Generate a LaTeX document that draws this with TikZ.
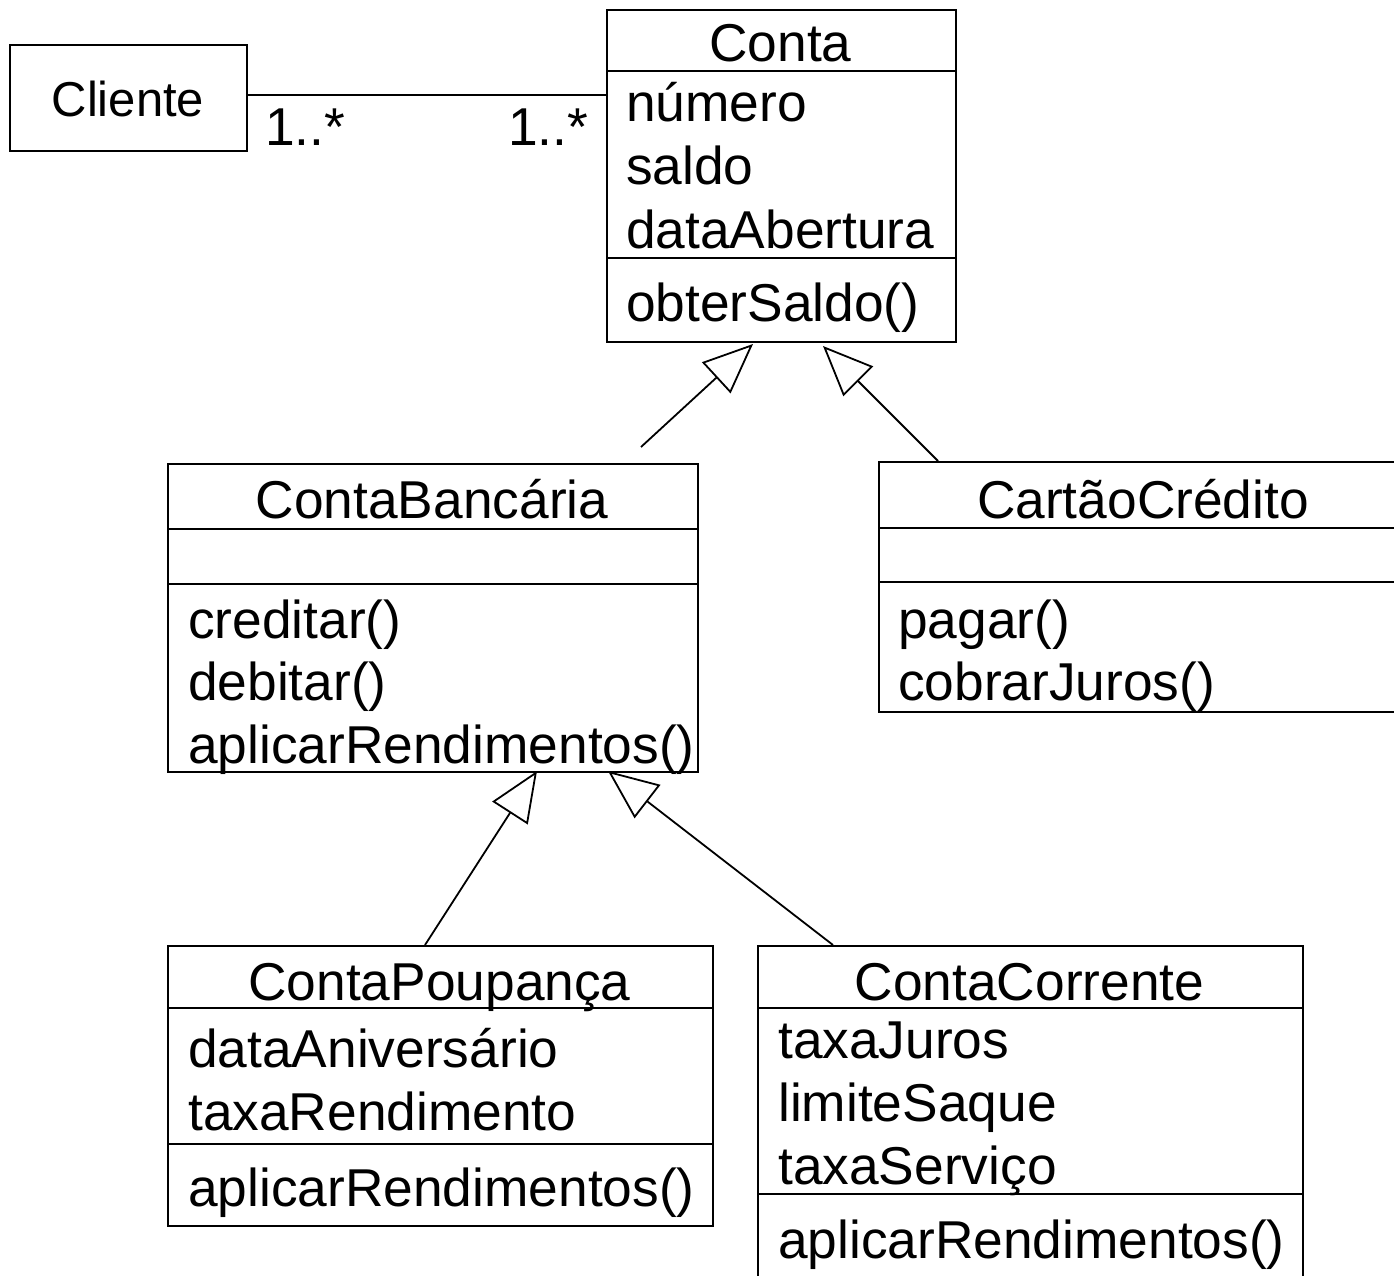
\documentclass[tikz,border=0pt]{standalone}
\usepackage{fontspec}
\setmainfont{Liberation Sans}
\usetikzlibrary{arrows.meta}
\begin{document}
\begin{tikzpicture}[x=1pt,y=-1pt,
  classbox/.style={draw, line width=1.8pt, inner sep=0pt, anchor=north west},
  txt/.style={inner sep=0pt, anchor=base west, font=\fontsize{53.3}{63}\selectfont},
  ttl/.style={inner sep=0pt, anchor=base, font=\fontsize{53.3}{63}\selectfont},
  sep/.style={line width=1.8pt},
  assoc/.style={line width=1.8pt},
  gen/.style={line width=1.8pt, -{Triangle[open, length=50pt, width=42pt, line width=1.8pt]}}
]
\clip (0,0) rectangle (1394,1276);
\fill[white] (0,0) rectangle (1394,1276);

% Cliente
\node[classbox, minimum width=237pt, minimum height=106pt] (cli) at (9,44) {};
\node[ttl, font=\fontsize{49}{60}\selectfont] (clit) at (128,117) {Cliente};

% Conta
\node[classbox, minimum width=349pt, minimum height=332pt] (conta) at (606,9) {};
\draw[sep] (606,71) -- (955,71);
\draw[sep] (606,258) -- (955,258);
\node[ttl] (contat) at (780.5,62) {Conta};
\node[txt] (c1) at (626,122) {número};
\node[txt] (c2) at (626,185) {saldo};
\node[txt] (c3) at (626,248) {dataAbertura};
\node[txt] (c4) at (626,321) {obterSaldo()};

% association
\draw[assoc] (cli.east |- 0,95) -- (conta.west |- 0,95);
\node[txt] (m1) at (265,146) {1..*};
\node[txt] (m2) at (508,146) {1..*};

% ContaBancaria
\node[classbox, minimum width=530pt, minimum height=308pt] (cb) at (167,463) {};
\draw[sep] (167,529) -- (697,529);
\draw[sep] (167,584) -- (697,584);
\node[ttl] (cbt) at (432,518) {ContaBancária};
\node[txt] (cb1) at (188,638) {creditar()};
\node[txt] (cb2) at (188,700) {debitar()};
\node[txt] (cb3) at (188,763) {aplicarRendimentos()};

% CartaoCredito
\node[classbox, minimum width=530pt, minimum height=250pt] (cc) at (878,461) {};
\draw[sep] (878,528) -- (1408,528);
\draw[sep] (878,582) -- (1408,582);
\node[ttl] (cct) at (1143,518) {CartãoCrédito};
\node[txt] (cc1) at (898,638) {pagar()};
\node[txt] (cc2) at (898,700) {cobrarJuros()};

% ContaPoupanca
\node[classbox, minimum width=545pt, minimum height=280pt] (cp) at (167,945) {};
\draw[sep] (167,1008) -- (712,1008);
\draw[sep] (167,1144) -- (712,1144);
\node[ttl] (cpt) at (439.5,1000) {ContaPoupança};
\node[txt] (cp1) at (188,1067) {dataAniversário};
\node[txt] (cp2) at (188,1130) {taxaRendimento};
\node[txt] (cp3) at (188,1206) {aplicarRendimentos()};

% ContaCorrente
\node[classbox, minimum width=545pt, minimum height=360pt] (ccr) at (757,945) {};
\draw[sep] (757,1008) -- (1302,1008);
\draw[sep] (757,1194) -- (1302,1194);
\node[ttl] (ccrt) at (1029.5,1000) {ContaCorrente};
\node[txt] (ccr1) at (778,1058) {taxaJuros};
\node[txt] (ccr2) at (778,1121) {limiteSaque};
\node[txt] (ccr3) at (778,1184) {taxaServiço};
\node[txt] (ccr4) at (778,1258) {aplicarRendimentos()};

% generalization end points
\coordinate (t1) at (753,344);
\coordinate (t2) at (823,346);
\coordinate (t3) at (537,771);
\coordinate (t4) at (608,771);
\coordinate (s1) at (641,447);
\coordinate (s2) at (938,461);
\coordinate (s3) at (425,945);
\coordinate (s4) at (833,945);

\draw[gen] (s1) -- (t1);
\draw[gen] (s2) -- (t2);
\draw[gen] (s3) -- (t3);
\draw[gen] (s4) -- (t4);
\end{tikzpicture}
\end{document}
